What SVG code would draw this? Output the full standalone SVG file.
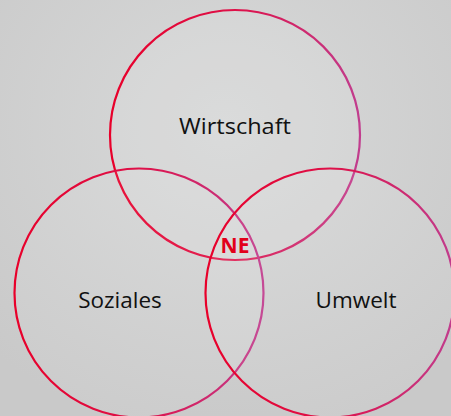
<svg xmlns="http://www.w3.org/2000/svg" width="451" height="416" viewBox="0 0 451 416">
<defs>
<radialGradient id="bg" cx="0.5" cy="0.3" r="0.75">
<stop offset="0" stop-color="#d8d9d9"/>
<stop offset="1" stop-color="#c9c9c9"/>
</radialGradient>
<linearGradient id="ring" x1="0" y1="0" x2="1" y2="0">
<stop offset="0" stop-color="#e8002a"/>
<stop offset="0.5" stop-color="#de1048"/>
<stop offset="1" stop-color="#c13d8e"/>
</linearGradient>
</defs>
<style>
.ring{fill:#ffffff;fill-opacity:0.07;stroke:url(#ring);stroke-width:2.2}
.lbl{font-family:"Open Sans","Noto Sans","Liberation Sans",sans-serif;font-size:22.5px;fill:#111;text-anchor:middle}
.ne{font-family:"Open Sans","Noto Sans","Liberation Sans",sans-serif;font-size:21px;font-weight:bold;fill:#e2001a;text-anchor:middle}
</style>
<rect width="451" height="416" fill="url(#bg)"/>
<g id="wirtschaft">
<circle class="ring" cx="235" cy="135" r="125"/>
<text class="lbl" x="235" y="134" textLength="112" lengthAdjust="spacingAndGlyphs">Wirtschaft</text>
</g>
<g id="soziales">
<circle class="ring" cx="139" cy="293" r="124.5"/>
<text class="lbl" x="120" y="308">Soziales</text>
</g>
<g id="umwelt">
<circle class="ring" cx="330" cy="293" r="124.5"/>
<text class="lbl" x="356" y="308">Umwelt</text>
</g>
<g id="ne">
<text class="ne" x="235" y="253">NE</text>
</g>
<g id="connectors"/>
</svg>
